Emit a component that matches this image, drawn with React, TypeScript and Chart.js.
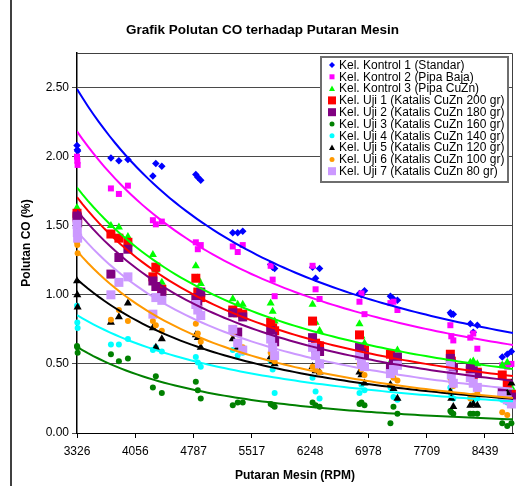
import React, { useEffect, useRef } from "react";
import { Chart, registerables } from "chart.js";

Chart.register(...registerables);

const FONT = "Arial, 'Liberation Sans', Helvetica, sans-serif";

// Axis ticks
const rpmTicks = [3326, 4056, 4787, 5517, 6248, 6978, 7709, 8439];
const coTicks = [0, 0.5, 1, 1.5, 2, 2.5];

// Engine speed of every reading: 12 speed steps, three readings each
const rpm = [
  3326, 3330, 3334,
  3751, 3851, 3964,
  4277, 4314, 4389,
  4815, 4840, 4877,
  5278, 5340, 5403,
  5753, 5778, 5803,
  6278, 6316, 6366,
  6866, 6891, 6929,
  7254, 7292, 7342,
  8005, 8017, 8042,
  8255, 8292, 8343,
  8655, 8718, 8770,
];

// CO (%) per group, same order as rpm
const kontrol1 = [
  2.08, 2.05, 2.04, 1.99, 1.97, 1.98, 1.86, 1.95, 1.93, 1.87, 1.85, 1.83,
  1.45, 1.45, 1.46, 1.22, 1.2, 1.19, 1.2, 1.12, 1.19, 1.01, 1.0, 1.03,
  0.99, 0.97, 0.96, 0.87, 0.86, 0.86, 0.79, 0.73, 0.78, 0.55, 0.57, 0.59,
];
const kontrol2 = [
  2.0, 1.97, 1.94, 1.77, 1.73, 1.79, 1.54, 1.51, 1.53, 1.38, 1.33, 1.36,
  1.35, 1.31, 1.36, 1.21, 1.11, 0.99, 1.21, 1.04, 0.97, 0.95, 1.01, 0.86,
  0.94, 0.95, 0.89, 0.78, 0.7, 0.67, 0.69, 0.72, 0.61, 0.49, 0.48, 0.5,
];
const kontrol3 = [
  1.63, 1.6, 1.58, 1.5, 1.49, 1.42, 1.29, 1.18, 1.09, 1.21, 1.12, 1.08,
  0.97, 0.93, 0.93, 0.94, 0.88, 0.81, 0.93, 0.8, 0.74, 0.79, 0.7, 0.65,
  0.51, 0.55, 0.6, 0.52, 0.48, 0.45, 0.51, 0.52, 0.5, 0.49, 0.51, 0.33,
];
const uji1 = [
  1.59, 1.56, 1.55, 1.44, 1.41, 1.38, 1.13, 1.2, 1.04, 1.12, 1.02, 0.98,
  0.89, 0.87, 0.86, 0.8, 0.76, 0.74, 0.81, 0.65, 0.63, 0.71, 0.61, 0.6,
  0.57, 0.54, 0.52, 0.57, 0.52, 0.47, 0.45, 0.42, 0.44, 0.42, 0.36, 0.28,
];
const uji2 = [
  1.57, 1.55, 1.52, 1.15, 1.27, 1.33, 1.1, 1.06, 1.02, 0.98, 0.95, 1.02,
  0.87, 0.73, 0.84, 0.74, 0.7, 0.66, 0.69, 0.61, 0.59, 0.62, 0.58, 0.56,
  0.47, 0.5, 0.55, 0.54, 0.5, 0.47, 0.47, 0.45, 0.43, 0.3, 0.28, 0.26,
];
const uji3 = [
  0.63, 0.62, 0.58, 0.57, 0.52, 0.54, 0.33, 0.41, 0.29, 0.37, 0.31, 0.25,
  0.2, 0.22, 0.22, 0.21, 0.2, 0.19, 0.22, 0.2, 0.19, 0.21, 0.22, 0.2,
  0.07, 0.19, 0.14, 0.16, 0.15, 0.14, 0.14, 0.14, 0.14, 0.07, 0.05, 0.07,
];
const uji4 = [
  0.92, 0.8, 0.76, 0.64, 0.64, 0.68, 0.6, 0.62, 0.59, 0.55, 0.51, 0.48,
  0.6, 0.56, 0.58, 0.52, 0.46, 0.29, 0.4, 0.3, 0.25, 0.29, 0.35, 0.31,
  0.33, 0.26, 0.24, 0.33, 0.28, 0.25, 0.26, 0.24, 0.25, 0.24, 0.22, 0.2,
];
const uji5 = [
  1.1, 1.0, 0.91, 0.8, 0.84, 0.94, 0.76, 0.62, 0.68, 0.71, 0.69, 0.62,
  0.68, 0.62, 0.6, 0.55, 0.52, 0.5, 0.48, 0.45, 0.44, 0.44, 0.42, 0.36,
  0.35, 0.32, 0.25, 0.3, 0.25, 0.19, 0.2, 0.21, 0.2, 0.27, 0.29, 0.36,
];
const uji6 = [
  1.38, 1.36, 1.3, 0.82, 0.89, 0.81, 0.81, 0.78, 0.74, 0.79, 0.72, 0.66,
  0.72, 0.66, 0.62, 0.58, 0.55, 0.52, 0.48, 0.46, 0.44, 0.5, 0.46, 0.42,
  0.42, 0.4, 0.38, 0.4, 0.37, 0.34, 0.25, 0.27, 0.29, 0.15, 0.13, 0.2,
];
const uji7 = [
  1.51, 1.45, 1.41, 1.0, 1.09, 1.13, 0.86, 0.98, 0.96, 0.93, 0.89, 0.85,
  0.75, 0.65, 0.6, 0.68, 0.62, 0.56, 0.62, 0.56, 0.5, 0.56, 0.51, 0.48,
  0.43, 0.46, 0.49, 0.49, 0.42, 0.36, 0.4, 0.36, 0.33, 0.27, 0.24, 0.21,
];

type Marker = "diamond" | "square" | "triangle" | "circle";
type Group = {
  label: string;
  values: number[];
  color: string;
  marker: Marker;
  size: number; // marker size on the plot, px
  legendSize: number; // marker size in the legend box, px
};

const groups: Group[] = [
  { label: "Kel. Kontrol 1 (Standar)", values: kontrol1, color: "#0000FF", marker: "diamond", size: 7.5, legendSize: 6 },
  { label: "Kel. Kontrol 2 (Pipa Baja)", values: kontrol2, color: "#FF00FF", marker: "square", size: 6, legendSize: 5 },
  { label: "Kel. Kontrol 3 (Pipa CuZn)", values: kontrol3, color: "#00FF00", marker: "triangle", size: 7, legendSize: 6 },
  { label: "Kel. Uji 1 (Katalis CuZn 200 gr)", values: uji1, color: "#FF0000", marker: "square", size: 9, legendSize: 8 },
  { label: "Kel. Uji 2 (Katalis CuZn 180 gr)", values: uji2, color: "#800080", marker: "square", size: 9, legendSize: 8 },
  { label: "Kel. Uji 3 (Katalis CuZn 160 gr)", values: uji3, color: "#008000", marker: "circle", size: 6, legendSize: 5 },
  { label: "Kel. Uji 4 (Katalis CuZn 140 gr)", values: uji4, color: "#00FFFF", marker: "circle", size: 6, legendSize: 5 },
  { label: "Kel. Uji 5 (Katalis CuZn 120 gr)", values: uji5, color: "#000000", marker: "triangle", size: 7, legendSize: 6 },
  { label: "Kel. Uji 6 (Katalis CuZn 100 gr)", values: uji6, color: "#FF9900", marker: "circle", size: 6, legendSize: 5 },
  { label: "Kel. Uji 7 (Katalis CuZn 80 gr)", values: uji7, color: "#CC99FF", marker: "square", size: 9, legendSize: 8 },
];

const X_MIN = 3326;
const X_MAX = 8790;

// Least-squares power trend y = a * x^b (fit in log-log space)
function powerFit(xs: number[], ys: number[]) {
  let n = 0, sx = 0, sy = 0, sxx = 0, sxy = 0;
  xs.forEach((x, i) => {
    const y = ys[i];
    if (y == null || y <= 0) return;
    const lx = Math.log(x);
    const ly = Math.log(y);
    n++;
    sx += lx;
    sy += ly;
    sxx += lx * lx;
    sxy += lx * ly;
  });
  const b = (n * sxy - sx * sy) / (n * sxx - sx * sx);
  const a = Math.exp((sy - b * sx) / n);
  return { a, b };
}

function trendPoints(values: number[]) {
  const { a, b } = powerFit(rpm, values);
  const pts: { x: number; y: number }[] = [];
  const steps = 80;
  for (let i = 0; i <= steps; i++) {
    const x = X_MIN + ((X_MAX - X_MIN) * i) / steps;
    pts.push({ x, y: a * Math.pow(x, b) });
  }
  return pts;
}

function pointStyleOf(m: Marker) {
  if (m === "diamond") return "rectRot";
  if (m === "square") return "rect";
  if (m === "triangle") return "triangle";
  return "circle";
}

// Chart.js radius that gives a marker of the given outer size
function radiusOf(m: Marker, size: number) {
  if (m === "square") return size / 2 / Math.SQRT1_2;
  if (m === "triangle") return size / 1.5;
  return size / 2;
}

function drawMarker(ctx: CanvasRenderingContext2D, m: Marker, x: number, y: number, size: number, color: string) {
  ctx.fillStyle = color;
  ctx.beginPath();
  const h = size / 2;
  if (m === "diamond") {
    ctx.moveTo(x, y - h);
    ctx.lineTo(x + h, y);
    ctx.lineTo(x, y + h);
    ctx.lineTo(x - h, y);
    ctx.closePath();
  } else if (m === "square") {
    ctx.rect(x - h, y - h, size, size);
  } else if (m === "triangle") {
    ctx.moveTo(x, y - h);
    ctx.lineTo(x + h, y + h * 0.8);
    ctx.lineTo(x - h, y + h * 0.8);
    ctx.closePath();
  } else {
    ctx.arc(x, y, h, 0, Math.PI * 2);
  }
  ctx.fill();
}

const framePlugin = {
  id: "frameAndLegend",
  beforeDraw(chart: any) {
    const { ctx, width, height } = chart;
    ctx.save();
    ctx.fillStyle = "#ffffff";
    ctx.fillRect(0, 0, width, height);
    // outer chart border (left edge)
    ctx.strokeStyle = "#000000";
    ctx.lineWidth = 1.5;
    ctx.beginPath();
    ctx.moveTo(11, 0);
    ctx.lineTo(11, height);
    ctx.stroke();
    ctx.restore();
  },
  beforeDatasetsDraw(chart: any) {
    const { ctx, chartArea } = chart;
    ctx.save();
    ctx.strokeStyle = "#404040";
    ctx.lineWidth = 1;
    ctx.beginPath();
    ctx.moveTo(chartArea.left, chartArea.top + 0.5);
    ctx.lineTo(chartArea.right - 0.5, chartArea.top + 0.5);
    ctx.lineTo(chartArea.right - 0.5, chartArea.bottom);
    ctx.stroke();
    ctx.restore();
  },
  afterDraw(chart: any) {
    const { ctx, chartArea, width } = chart;
    ctx.save();

    // title
    ctx.fillStyle = "#000000";
    ctx.font = `bold 13.5px ${FONT}`;
    ctx.textAlign = "center";
    ctx.textBaseline = "middle";
    ctx.fillText("Grafik Polutan CO terhadap Putaran Mesin", width / 2 + 2, 30);

    // legend box
    const boxRight = chartArea.right - 5;
    const boxLeft = boxRight - 187;
    const boxTop = chartArea.top + 4;
    const boxH = 125;
    ctx.fillStyle = "#ffffff";
    ctx.fillRect(boxLeft, boxTop, boxRight - boxLeft, boxH);
    ctx.strokeStyle = "#6e6e6e";
    ctx.lineWidth = 2;
    ctx.strokeRect(boxLeft, boxTop, boxRight - boxLeft, boxH);

    ctx.font = `12px ${FONT}`;
    ctx.textAlign = "left";
    ctx.textBaseline = "middle";
    groups.forEach((g, i) => {
      const cy = boxTop + 8 + i * 11.8;
      drawMarker(ctx, g.marker, boxLeft + 11, cy, g.legendSize, g.color);
      ctx.fillStyle = "#000000";
      ctx.fillText(g.label, boxLeft + 18, cy + 0.5);
    });
    ctx.restore();
  },
};

export default function App() {
  const canvasRef = useRef<HTMLCanvasElement | null>(null);

  useEffect(() => {
    const canvas = canvasRef.current;
    if (!canvas) return;

    const pointSets = groups.map((g, i) => ({
      type: "scatter" as const,
      label: g.label,
      data: rpm.map((x, j) => ({ x, y: g.values[j] })),
      pointStyle: pointStyleOf(g.marker),
      pointRadius: radiusOf(g.marker, g.size),
      pointHoverRadius: radiusOf(g.marker, g.size),
      pointBackgroundColor: g.color,
      pointBorderColor: g.color,
      pointBorderWidth: 0,
      backgroundColor: g.color,
      borderColor: g.color,
      showLine: false,
      clip: false,
      order: 30 - i,
    }));

    const trendSets = groups.map((g, i) => ({
      type: "line" as const,
      label: g.label + " trend",
      data: trendPoints(g.values),
      borderColor: g.color,
      borderWidth: 2,
      pointRadius: 0,
      fill: false,
      tension: 0,
      clip: 0,
      order: 10 - i,
    }));

    const tickFont = { family: FONT, size: 12 };
    const titleFont = { family: FONT, size: 12, weight: "bold" as const };

    const chart = new Chart(canvas, {
      type: "scatter",
      data: { datasets: [...pointSets, ...trendSets] as any },
      plugins: [framePlugin],
      options: {
        responsive: false,
        animation: false,
        devicePixelRatio: 1,
        layout: { padding: { left: 12, right: 8, top: 53, bottom: 0 } },
        plugins: {
          legend: { display: false },
          title: { display: false },
          tooltip: { enabled: false },
        },
        scales: {
          x: {
            type: "linear",
            min: X_MIN,
            max: X_MAX,
            afterBuildTicks: (s: any) => {
              s.ticks = rpmTicks.map((v) => ({ value: v }));
            },
            afterFit: (s: any) => {
              s.height = 53;
            },
            grid: { drawOnChartArea: false, drawTicks: true, tickLength: 5, color: "#000000" },
            border: { color: "#000000", width: 1 },
            ticks: {
              font: tickFont,
              color: "#000000",
              padding: 6,
              maxRotation: 0,
              autoSkip: false,
              callback: (v: any) => String(v),
            },
            title: {
              display: true,
              text: "Putaran Mesin (RPM)",
              font: titleFont,
              color: "#000000",
              padding: { top: 0, bottom: 3 },
            },
          },
          y: {
            type: "linear",
            min: 0,
            max: 2.75,
            afterBuildTicks: (s: any) => {
              s.ticks = coTicks.map((v) => ({ value: v }));
            },
            afterFit: (s: any) => {
              s.width = 65;
            },
            grid: { color: "#4a4a4a", drawTicks: true, tickLength: 5, lineWidth: 1 },
            border: { color: "#000000", width: 1.5 },
            ticks: {
              font: tickFont,
              color: "#000000",
              padding: 3,
              callback: (v: any) => Number(v).toFixed(2),
            },
            title: {
              display: true,
              text: "Polutan CO (%)",
              font: titleFont,
              color: "#000000",
              padding: { top: 7, bottom: 0 },
            },
          },
        },
      },
    });

    return () => chart.destroy();
  }, []);

  return (
    <div style={{ position: "absolute", left: 0, top: 0, width: 521, height: 486, background: "#ffffff" }}>
      <canvas ref={canvasRef} width={521} height={486} style={{ display: "block" }} />
    </div>
  );
}
